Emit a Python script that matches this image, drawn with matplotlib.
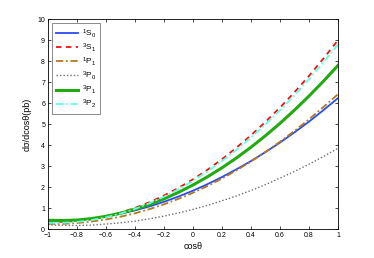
import numpy as np
import matplotlib
matplotlib.use("Agg")
import matplotlib.pyplot as plt

plt.rcParams['font.family'] = ['Liberation Sans', 'DejaVu Sans']
plt.rcParams['mathtext.fontset'] = 'custom'
plt.rcParams['mathtext.rm'] = 'Liberation Sans'
plt.rcParams['mathtext.it'] = 'Liberation Sans'

cos_theta = [-1.0, -0.9, -0.8, -0.7, -0.6, -0.5, -0.4, -0.3, -0.2, -0.1, 0.0,
             0.1, 0.2, 0.3, 0.4, 0.5, 0.6, 0.7, 0.8, 0.9, 1.0]

s0_1 = [0.36, 0.375, 0.42, 0.49, 0.60, 0.73, 0.89, 1.08, 1.30, 1.55, 1.83,
        2.14, 2.48, 2.85, 3.24, 3.67, 4.12, 4.61, 5.12, 5.67, 6.24]
s1_3 = [0.35, 0.345, 0.385, 0.47, 0.605, 0.78, 1.01, 1.28, 1.60, 1.96, 2.37,
        2.825, 3.33, 3.88, 4.47, 5.11, 5.79, 6.52, 7.30, 8.13, 9.0]
p1_1 = [0.25, 0.25, 0.29, 0.36, 0.46, 0.59, 0.75, 0.95, 1.18, 1.44, 1.73,
        2.05, 2.41, 2.80, 3.22, 3.68, 4.16, 4.68, 5.23, 5.82, 6.43]
p0_3 = [0.20, 0.18, 0.17, 0.19, 0.24, 0.30, 0.38, 0.49, 0.62, 0.77, 0.94,
        1.13, 1.35, 1.58, 1.84, 2.12, 2.43, 2.75, 3.09, 3.46, 3.85]
p1_3 = [0.42, 0.41, 0.43, 0.50, 0.61, 0.76, 0.95, 1.17, 1.44, 1.75, 2.10,
        2.49, 2.92, 3.39, 3.90, 4.45, 5.04, 5.67, 6.34, 7.05, 7.80]
p2_3 = [0.30, 0.30, 0.34, 0.43, 0.56, 0.74, 0.96, 1.23, 1.54, 1.90, 2.30,
        2.75, 3.24, 3.78, 4.36, 4.99, 5.66, 6.38, 7.14, 7.95, 8.80]

labels = [r'$^1\mathrm{S}_0$', r'$^3\mathrm{S}_1$', r'$^1\mathrm{P}_1$',
          r'$^3\mathrm{P}_0$', r'$^3\mathrm{P}_1$', r'$^3\mathrm{P}_2$']

fig = plt.figure(figsize=(3.74, 2.58), dpi=100)
ax = fig.add_axes([0.128, 0.112, 0.776, 0.814])

ax.plot(cos_theta, s0_1, color='#2a4bf0', lw=1.3, ls='-', label=labels[0])
ax.plot(cos_theta, s1_3, color='#ee1111', lw=1.3, ls=(0, (3, 2.5)), label=labels[1])
ax.plot(cos_theta, p1_1, color='#b07820', lw=1.3, ls=(0, (4, 1.5, 1, 1.5)), label=labels[2])
ax.plot(cos_theta, p0_3, color='#707070', lw=1.0, ls=(0, (1, 1.5)), label=labels[3])
ax.plot(cos_theta, p1_3, color='#22aa11', lw=2.2, ls='-', label=labels[4])
ax.plot(cos_theta, p2_3, color='#66ffdd', lw=1.3, ls=(0, (4, 1.5, 1, 1.5)), label=labels[5])

ax.set_xlim(-1, 1)
ax.set_ylim(0, 10)
ax.set_xticks(np.arange(-1, 1.01, 0.2))
ax.set_xticklabels(['\u22121', '\u22120.8', '\u22120.6', '\u22120.4', '\u22120.2', '0',
                    '0.2', '0.4', '0.6', '0.8', '1'])
ax.set_yticks(range(0, 11))
ax.tick_params(direction='in', length=2.5, width=0.5, labelsize=5,
               top=True, right=True, pad=2)
for sp in ax.spines.values():
    sp.set_linewidth(0.6)

ax.set_xlabel('cos\u03b8', fontsize=6.5, labelpad=2)
ax.set_ylabel('d\u03c3/dcos\u03b8(pb)', fontsize=6.5, labelpad=4)

leg = ax.legend(loc='upper left', fontsize=6, frameon=True, fancybox=False,
                handlelength=2.7, handletextpad=0.4, labelspacing=0.2,
                borderpad=0.45, borderaxespad=0.5)
leg.get_frame().set_edgecolor('#555555')
leg.get_frame().set_linewidth(0.6)

fig.savefig('out.png', dpi=100)
